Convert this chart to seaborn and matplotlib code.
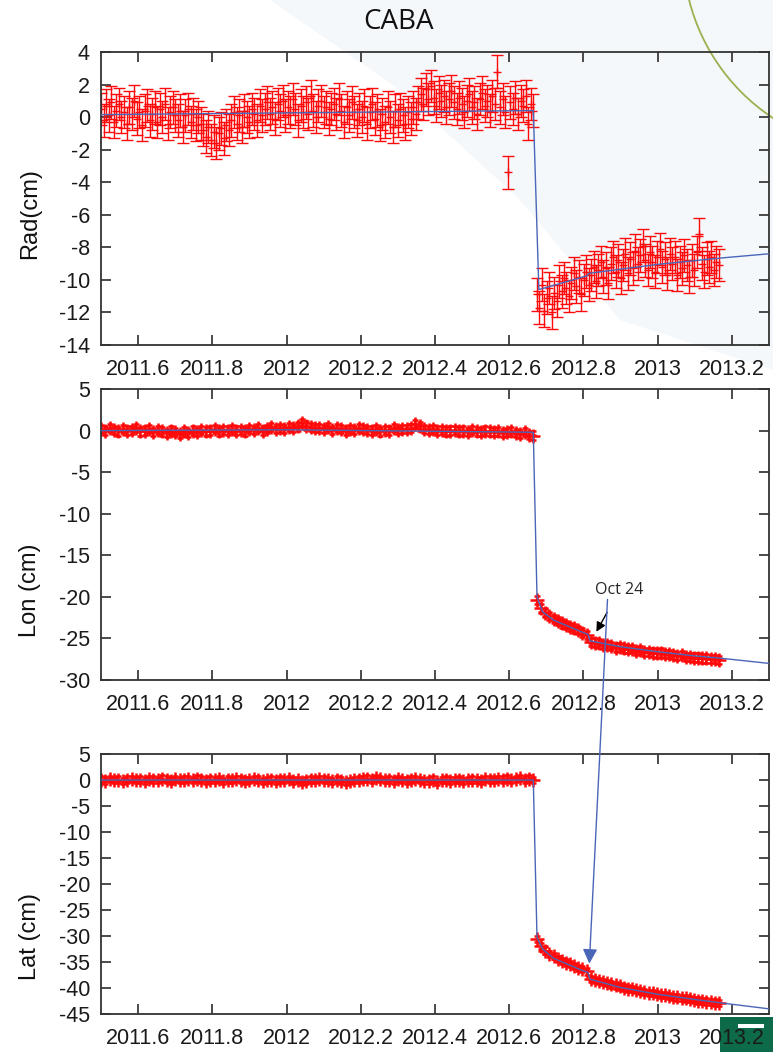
import numpy as np
import matplotlib
matplotlib.use('Agg')
import matplotlib.pyplot as plt
import seaborn as sns
from matplotlib.patches import Polygon, Arc, Rectangle, ConnectionPatch

# GPS epochs (regular sampling before / after the event)
pre_start, pre_end = 2011.50, 2012.665
post_start, post_end = 2012.675, 2013.165

# Radial (cm)
rad_pre = [0.5, -0.2, 0.7, 0.1, 0.9, -0.3, 0.4, 0.8, 0.0, 0.3,
           -0.4, 0.6, 0.2, 1.0, -0.1, 0.3, -0.5, 0.4, 0.7, -0.2,
           0.2, 0.6, -0.3, 0.5, 0.0, 0.8, -0.4, 0.3, 0.6, 0.1,
           -0.2, 0.4, -0.6, 0.1, 0.5, -0.3, 0.2, -0.5, 0.0, -0.4,
           -0.8, -1.2, -0.6, -1.4, -0.9, -1.6, -1.0, -0.7, -1.3, -0.5,
           -0.8, -0.2, 0.3, -0.4, 0.1, -0.6, 0.4, 0.0, -0.3, 0.5,
           0.2, -0.2, 0.7, 0.1, 0.5, 0.9, 0.2, 0.6, -0.1, 0.8,
           0.4, 1.0, 0.1, 0.6, 0.3, 1.1, 0.5, -0.2, 0.7, 0.3,
           0.9, 0.2, 1.3, 0.4, 0.0, 0.7, 1.0, 0.3, 0.6, -0.1,
           0.5, 0.8, 0.2, 1.1, 0.4, -0.3, 0.6, 0.1, 0.9, 0.3,
           -0.2, 0.5, 0.0, 0.7, -0.4, 0.3, 0.8, -0.1, 0.4, -0.5,
           0.2, -0.3, 0.6, 0.0, -0.6, 0.4, -0.2, 0.5, 0.1, -0.4,
           0.3, -0.1, 0.6, 0.2, 0.9, 1.4, 0.8, 1.7, 1.1, 1.9,
           1.2, 0.7, 1.5, 1.0, 1.3, 0.6, 1.1, 1.6, 0.9, 0.5,
           1.2, 0.8, 0.3, 1.0, 1.4, 0.6, 0.9, 0.2, 1.1, 1.5,
           0.7, 1.0, 0.4, 1.3, 0.8, 2.8, 0.6, 1.1, 0.3, -3.4,
           0.9, 0.5, 1.2, 0.2, 1.0, 0.7, 1.3, -0.4, 0.8, 0.4]
rad_post = [-10.9, -11.7, -10.3, -11.9, -11.1, -10.5, -12.0, -10.8, -11.3, -10.1,
            -10.7, -9.9, -10.5, -11.0, -10.2, -9.6, -10.4, -9.8, -10.9, -10.0,
            -9.5, -10.3, -9.7, -9.2, -10.1, -9.4, -8.9, -9.8, -9.3, -10.2,
            -9.0, -8.6, -9.5, -8.8, -9.9, -9.1, -8.4, -9.6, -8.7, -9.3,
            -8.2, -9.0, -8.5, -7.9, -8.8, -9.4, -8.3, -8.9, -9.5, -8.6,
            -8.1, -9.2, -8.7, -9.6, -8.4, -9.0, -8.6, -9.7, -8.9, -9.3,
            -8.5, -9.1, -9.8, -8.8, -9.4, -8.3, -7.2, -9.0, -9.5, -8.7,
            -9.2, -8.6, -9.4, -8.9, -9.1]

# East-west (cm)
lon_pre = [0.2, 0.0, 0.3, 0.1, -0.1, 0.2, 0.0, 0.1, 0.3, -0.1,
           0.0, 0.2, -0.2, 0.1, -0.1, -0.3, 0.0, -0.2, -0.4, -0.1,
           -0.3, 0.0, -0.2, 0.1, -0.1, 0.0, 0.2, -0.1, 0.1, 0.0,
           0.2, 0.0, 0.1, -0.1, 0.2, 0.1, 0.3, 0.0, 0.2, 0.4,
           0.2, 0.3, 0.2, 0.4, 0.3, 0.5, 0.9, 0.6, 0.4, 0.3,
           0.3, 0.2, 0.4, 0.1, 0.3, 0.2, 0.0, 0.2, 0.1, 0.3,
           0.2, 0.1, 0.0, 0.2, -0.1, 0.1, 0.0, 0.3, 0.1, 0.2,
           0.2, 0.3, 0.8, 0.5, 0.2, 0.1, 0.2, 0.0, 0.1, -0.1,
           0.0, 0.1, -0.1, 0.0, -0.2, 0.1, -0.1, -0.2, 0.0, -0.1,
           -0.2, -0.1, -0.3, -0.2, -0.1, -0.3, -0.4, -0.2, -0.5, -0.6]
lon_post = [-20.4, -21.3, -21.9, -22.3, -22.7, -22.9, -23.2, -23.4, -23.6, -23.8,
            -24.0, -24.3, -24.6, -25.4, -25.5, -25.6, -25.8, -25.8, -25.9, -26.1,
            -26.0, -26.2, -26.3, -26.3, -26.5, -26.4, -26.6, -26.6, -26.7, -26.8,
            -26.7, -26.9, -26.9, -27.0, -27.1, -27.0, -27.2, -27.2, -27.3, -27.3,
            -27.4, -27.4, -27.5, -27.5, -27.6]

# North-south (cm)
lat_pre = [0.1, -0.1, 0.2, 0.0, 0.1, -0.2, 0.1, 0.2, 0.0, 0.1,
           -0.1, 0.2, 0.1, 0.0, 0.3, 0.1, -0.1, 0.2, 0.0, 0.1,
           0.2, 0.0, 0.3, 0.1, -0.1, 0.1, 0.0, 0.2, -0.2, 0.1,
           0.0, 0.2, 0.1, -0.1, 0.0, 0.2, 0.1, -0.2, 0.0, 0.1,
           -0.1, 0.1, 0.0, 0.2, -0.1, 0.0, -0.3, -0.1, 0.1, 0.0,
           0.2, 0.1, 0.0, -0.2, 0.1, -0.1, -0.4, -0.2, 0.0, 0.1,
           0.2, 0.3, 0.1, 0.4, 0.2, 0.0, 0.1, -0.1, 0.2, 0.0,
           -0.1, 0.1, 0.2, 0.0, -0.2, -0.1, 0.1, -0.3, 0.0, 0.1,
           -0.1, 0.0, 0.1, -0.2, 0.0, 0.1, 0.0, -0.1, 0.2, 0.1,
           0.0, 0.2, 0.1, 0.3, 0.0, 0.2, 0.4, 0.1, 0.3, 0.0]
lat_post = [-30.6, -31.9, -32.8, -33.4, -33.9, -34.4, -34.8, -35.1, -35.4, -35.8,
            -36.1, -36.4, -36.8, -38.2, -38.5, -38.7, -38.9, -39.1, -39.3, -39.5,
            -39.7, -39.9, -40.1, -40.2, -40.4, -40.6, -40.7, -40.9, -41.0, -41.2,
            -41.3, -41.4, -41.6, -41.7, -41.8, -41.9, -42.0, -42.1, -42.3, -42.4,
            -42.5, -42.6, -42.7, -42.8, -42.9]

rad_err, lon_err, lat_err = 1.0, 0.5, 0.6

# fitted trajectory model
rad_model_t = [2011.5, 2012.665, 2012.68, 2012.81, 2012.815, 2013.0, 2013.175, 2013.3]
rad_model = [0.15, 0.4, -10.6, -9.75, -9.6, -9.05, -8.65, -8.4]
lon_model_t = [2011.5, 2012.0, 2012.665, 2012.675, 2012.69, 2012.72, 2012.8, 2012.812,
               2012.818, 2012.9, 2013.0, 2013.1, 2013.175, 2013.3]
lon_model = [0.0, 0.1, -0.2, -20.0, -21.8, -22.8, -24.3, -24.5,
             -25.3, -26.0, -26.6, -27.1, -27.4, -28.0]
lat_model_t = lon_model_t
lat_model = [0.0, 0.0, 0.0, -30.3, -32.5, -34.3, -36.7, -37.0,
             -38.3, -39.9, -41.2, -42.2, -42.9, -44.0]

xticks = [2011.6, 2011.8, 2012.0, 2012.2, 2012.4, 2012.6, 2012.8, 2013.0, 2013.2]
xticklabels = ['2011.6', '2011.8', '2012', '2012.2', '2012.4', '2012.6', '2012.8', '2013', '2013.2']

sns.set_style('ticks')
plt.rcParams['font.family'] = ['Liberation Sans', 'DejaVu Sans']
plt.rcParams['axes.unicode_minus'] = False

fig = plt.figure(figsize=(7.73, 10.52), dpi=100)

# slide background behind the plots
bg = fig.add_axes([0, 0, 1, 1], zorder=-5)
bg.set_xlim(0, 773)
bg.set_ylim(1052, 0)
bg.axis('off')
bg.add_patch(Polygon([(270, 0), (400, 90), (520, 200), (620, 320), (773, 370), (773, 0)],
                     closed=True, facecolor='#f5f8fb', edgecolor='none'))
bg.add_patch(Arc((883, -49), 400, 400, theta1=90, theta2=270, color='#9cb050', lw=1.3))
bg.add_patch(Rectangle((720, 1017), 60, 40, facecolor='#0e6b4a', edgecolor='none'))
bg.add_patch(Rectangle((738, 1024), 26, 4, facecolor='white', edgecolor='none'))

panels = [
    dict(pos=[0.1307, 0.6721, 0.864, 0.2785], pre=rad_pre, post=rad_post, err=rad_err,
         mt=rad_model_t, my=rad_model, ylim=(-14, 4), yticks=range(-14, 5, 2),
         label='Rad(cm)', label_y=0.45, ms=6, mew=1.0, elw=1.0, cap=4.0),
    dict(pos=[0.1307, 0.3536, 0.864, 0.2766], pre=lon_pre, post=lon_post, err=lon_err,
         mt=lon_model_t, my=lon_model, ylim=(-30, 5), yticks=range(-30, 6, 5),
         label='Lon (cm)', label_y=0.31, ms=10, mew=1.8, elw=1.6, cap=2.5),
    dict(pos=[0.1307, 0.0361, 0.864, 0.2471], pre=lat_pre, post=lat_post, err=lat_err,
         mt=lat_model_t, my=lat_model, ylim=(-45, 5), yticks=range(-45, 6, 5),
         label='Lat (cm)', label_y=0.30, ms=10, mew=1.8, elw=1.6, cap=2.5),
]

axes = []
for p in panels:
    ax = fig.add_axes(p['pos'])
    ax.set_facecolor('none')
    t_pre = np.linspace(pre_start, pre_end, len(p['pre']))
    t_post = np.linspace(post_start, post_end, len(p['post']))
    for t, y in [(t_pre, p['pre']), (t_post, p['post'])]:
        ax.errorbar(t, y, yerr=p['err'], fmt='+', color='#ff0a0a', ms=p['ms'], mew=p['mew'],
                    elinewidth=p['elw'], capsize=p['cap'], capthick=p['elw'], zorder=2)
    sns.lineplot(x=p['mt'], y=p['my'], ax=ax, color='#4a66b8', lw=1.0, zorder=3,
                 estimator=None, sort=False)
    ax.set_xlim(2011.5, 2013.3)
    ax.set_ylim(*p['ylim'])
    ax.set_xticks(xticks)
    ax.set_xticklabels(xticklabels)
    ax.set_yticks(list(p['yticks']))
    ax.tick_params(direction='in', length=7, width=1.1, top=True, right=True,
                   labelsize=15.5, colors='#1a1a1a', pad=8)
    ax.tick_params(axis='x', pad=10)
    for s in ax.spines.values():
        s.set_color('#333333')
        s.set_linewidth(1.3)
        s.set_visible(True)
    ax.set_ylabel(p['label'], fontsize=17, color='#111111')
    ax.yaxis.set_label_coords(-0.09, p['label_y'])
    axes.append(ax)

fig.text(0.516, 0.979, 'CABA', ha='center', va='center', fontsize=20,
         family=['Open Sans', 'DejaVu Sans'], color='#111111')

# Oct 24 annotation
ax_lon, ax_lat = axes[1], axes[2]
ax_lon.annotate('Oct 24', xy=(2012.835, -24.2), xytext=(2012.897, -19.2),
                ha='center', va='center', fontsize=11.5, family=['Open Sans', 'DejaVu Sans'],
                arrowprops=dict(arrowstyle='-|>', color='black', lw=1.0,
                                mutation_scale=14, shrinkA=9, shrinkB=0))
con = ConnectionPatch(xyA=(2012.865, -20.3), coordsA=ax_lon.transData,
                      xyB=(2012.816, -35.3), coordsB=ax_lat.transData,
                      arrowstyle='-|>', color='#4a66b8', lw=1.0, mutation_scale=22,
                      zorder=10)
fig.add_artist(con)

fig.savefig('out.png', dpi=100)
